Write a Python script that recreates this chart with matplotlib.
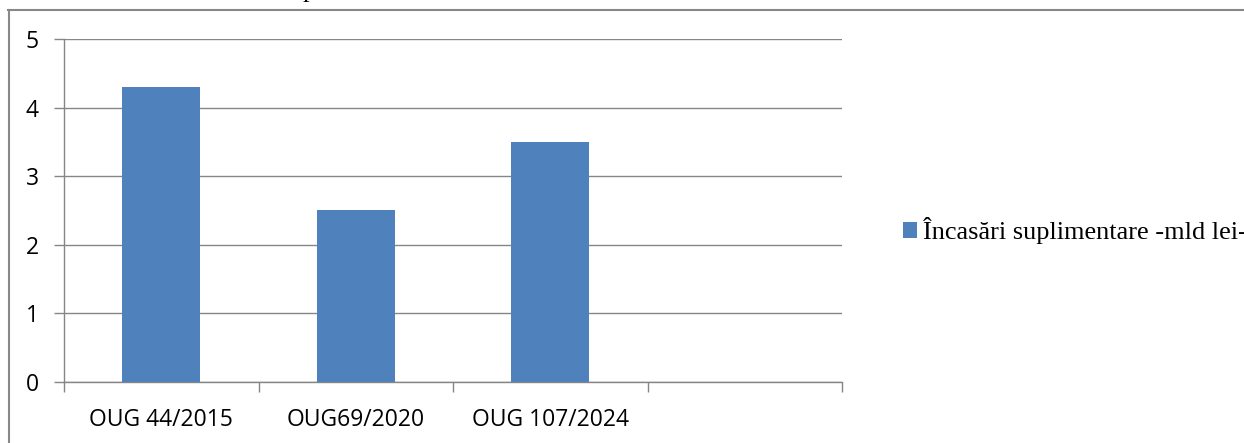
import matplotlib
matplotlib.use("Agg")
import matplotlib.pyplot as plt
from matplotlib.lines import Line2D
from matplotlib.patches import Patch

categories = ["OUG 44/2015", "OUG69/2020", "OUG 107/2024", ""]
values = [4.3, 2.5, 3.5]
series_name = "Încasări suplimentare -mld lei-"
yticks = [0, 1, 2, 3, 4, 5]

W, H = 1244, 443
fig = plt.figure(figsize=(W / 100, H / 100), dpi=100)
ax = fig.add_axes([64 / W, (H - 382) / H, (842 - 64) / W, (382 - 39) / H])

bar_color = "#4F81BD"
grid_color = "#868686"

xs = list(range(len(values)))
ax.bar(xs, values, width=0.4, color=bar_color, zorder=3)

ax.set_xlim(-0.5, len(categories) - 0.5)
ax.set_ylim(0, 5)
ax.set_yticks(yticks)
ax.set_yticklabels([str(v) for v in yticks], fontfamily="Open Sans", fontsize=16.5)

ax.set_xticks([i - 0.5 for i in range(len(categories) + 1)])
ax.set_xticklabels([])
ax.set_xticks(list(range(len(categories))), minor=True)
ax.set_xticklabels(categories, minor=True, fontfamily="Open Sans", fontsize=16.5)
ax.tick_params(axis="x", which="minor", length=0, pad=19)
ax.tick_params(axis="x", which="major", length=7, width=1, color=grid_color, direction="out")
ax.tick_params(axis="y", length=7, width=1, color=grid_color, direction="out", pad=11)

ax.yaxis.grid(True, color=grid_color, linewidth=1, zorder=0)
ax.set_axisbelow(True)
for s in ["top", "right"]:
    ax.spines[s].set_visible(False)
for s in ["left", "bottom"]:
    ax.spines[s].set_color(grid_color)
    ax.spines[s].set_linewidth(1)

leg = fig.legend(handles=[Patch(facecolor=bar_color, label=series_name)],
                 loc="center left", bbox_to_anchor=(903 / W, (H - 231) / H),
                 frameon=False, handlelength=0.53, handleheight=0.53, handletextpad=0.22,
                 borderaxespad=0, borderpad=0,
                 prop={"family": "Liberation Serif", "size": 18.9})

# outer frame
fig.add_artist(Line2D([8 / W, 1.0], [(H - 9.5) / H, (H - 9.5) / H], color="#888888", linewidth=1.5))
fig.add_artist(Line2D([8.5 / W, 8.5 / W], [0, (H - 9.5) / H], color="#888888", linewidth=1.5))

# cut-off title descender
fig.text(309 / W, 1.0 + 2.5 / H, "p", family="Liberation Serif", fontsize=18.9,
         ha="center", va="baseline")

fig.savefig("out.png", dpi=100)
